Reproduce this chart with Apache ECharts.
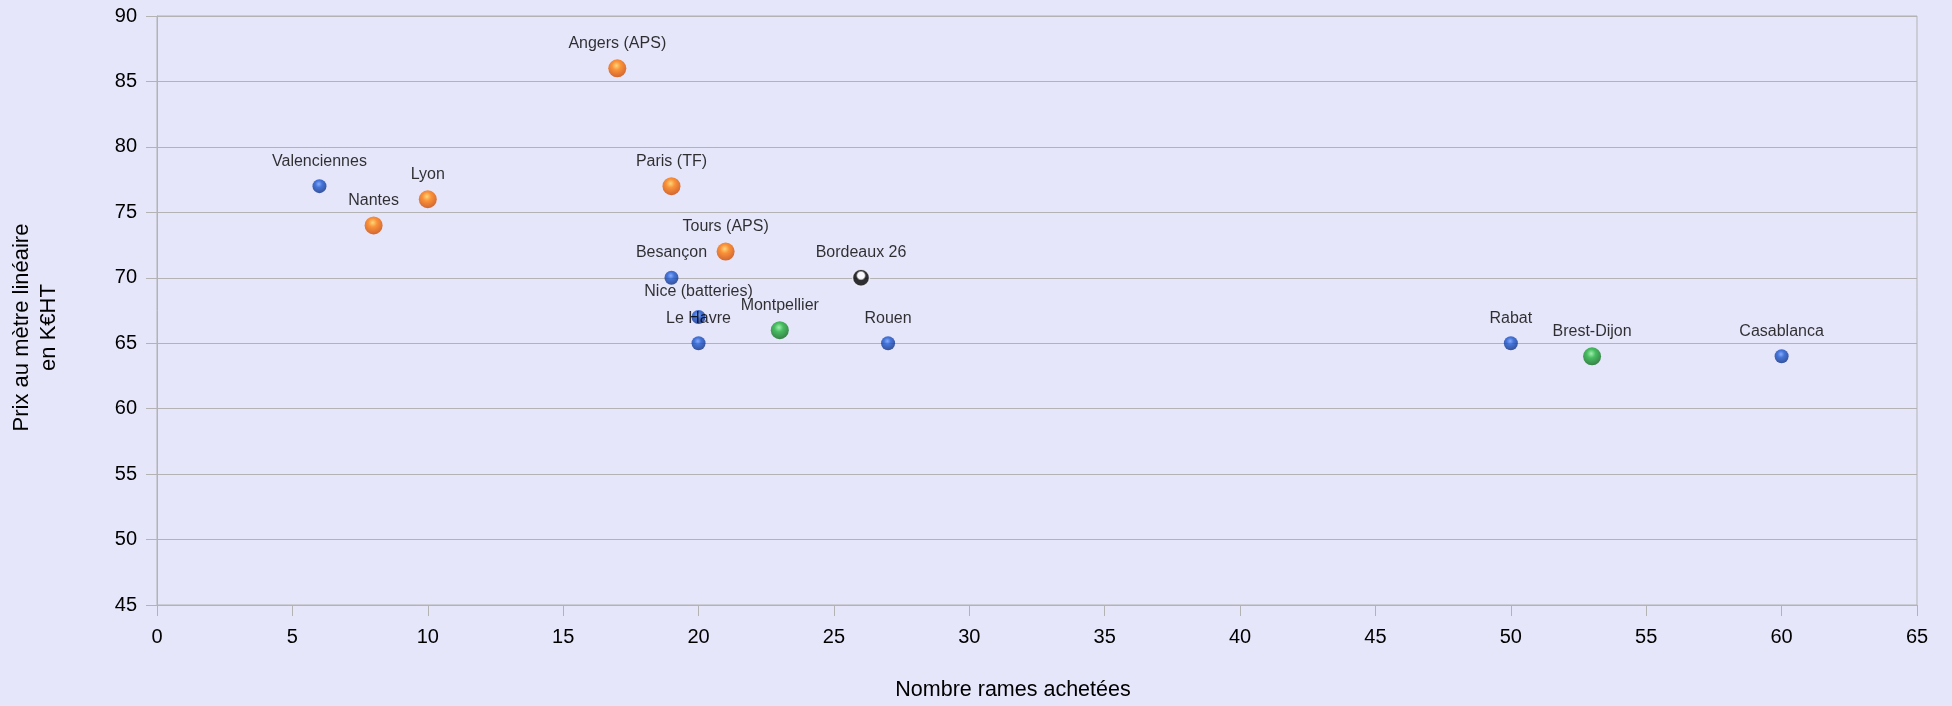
<!DOCTYPE html>
<html>
<head>
<meta charset="utf-8">
<script src="https://cdn.jsdelivr.net/npm/echarts@6/dist/echarts.min.js"></script>
<style>
  html, body { margin: 0; padding: 0; background: #e6e6fa; }
  #chart { width: 1952px; height: 706px; }
</style>
</head>
<body>
<div id="chart"></div>
<script>
// Tram fleet purchases: number of trainsets bought vs price per linear metre
const cities = ['Valenciennes', 'Nantes', 'Lyon', 'Angers (APS)', 'Paris (TF)', 'Tours (APS)',
  'Besançon', 'Nice (batteries)', 'Le Havre', 'Montpellier', 'Bordeaux 26', 'Rouen',
  'Rabat', 'Brest-Dijon', 'Casablanca'];
const ramesAchetees = [6, 8, 10, 17, 19, 21, 19, 20, 20, 23, 26, 27, 50, 53, 60];
const prixMetre = [77, 74, 76, 86, 77, 72, 70, 67, 65, 66, 70, 65, 65, 64, 64];
const groupes = ['bleu', 'orange', 'orange', 'orange', 'orange', 'orange',
  'bleu', 'bleu', 'bleu', 'vert', 'noir', 'bleu', 'bleu', 'vert', 'bleu'];

const xTicks = { min: 0, max: 65, interval: 5 };
const yTicks = { min: 45, max: 90, interval: 5 };

const FONT = '"Liberation Sans", Arial, sans-serif';

// glossy ball fill: bright spot near the top, darker rim
function sphere(light, mid, dark) {
  return {
    type: 'radial', x: 0.45, y: 0.35, r: 0.7,
    colorStops: [
      { offset: 0, color: light },
      { offset: 0.35, color: mid },
      { offset: 1, color: dark }
    ]
  };
}

const styles = {
  bleu:   { size: 14, color: sphere('#6f9cff', '#1c58d0', '#0a2878') },
  orange: { size: 18, color: sphere('#ffd35a', '#ff7c08', '#c84000') },
  vert:   { size: 18, color: sphere('#8ef09a', '#1fb23a', '#0a6018') },
  noir:   { size: 17, color: {
      type: 'radial', x: 0.5, y: 0.38, r: 0.6,
      colorStops: [
        { offset: 0, color: '#ffffff' },
        { offset: 0.3, color: '#ffffff' },
        { offset: 0.45, color: '#000000' },
        { offset: 1, color: '#000000' }
      ] }, border: '#f4f4ff' }
};

const series = Object.keys(styles).map(function (g) {
  const st = styles[g];
  const data = [];
  cities.forEach(function (name, i) {
    if (groupes[i] === g) data.push({ name: name, value: [ramesAchetees[i], prixMetre[i]] });
  });
  return {
    type: 'scatter',
    name: g,
    symbol: 'circle',
    symbolSize: st.size,
    itemStyle: {
      color: st.color,
      borderColor: st.border || 'transparent',
      borderWidth: st.border ? 1.5 : 0
    },
    label: {
      show: true,
      position: 'inside',
      offset: [0, -25],
      formatter: '{b}',
      color: '#000',
      fontFamily: FONT,
      fontSize: 16
    },
    emphasis: { disabled: true },
    data: data
  };
});

const chart = echarts.init(document.getElementById('chart'), null, { renderer: 'canvas' });
chart.setOption({
  backgroundColor: '#e6e6fa',
  animation: false,
  textStyle: { fontFamily: FONT },
  grid: {
    left: 157, right: 35, top: 16, bottom: 100,
    show: true, borderColor: '#b3b3b3', borderWidth: 1, backgroundColor: 'transparent'
  },
  xAxis: {
    type: 'value',
    min: xTicks.min, max: xTicks.max, interval: xTicks.interval,
    name: 'Nombre rames achetées',
    nameLocation: 'middle',
    nameGap: 74,
    nameTextStyle: { fontSize: 21.5, color: '#000', fontFamily: FONT, padding: [0, 48, 0, 0] },
    axisLine: { lineStyle: { color: '#b3b3b3' } },
    axisTick: { show: true, length: 11, lineStyle: { color: '#b3b3b3' } },
    axisLabel: { fontSize: 20, color: '#000', margin: 22, fontFamily: FONT },
    splitLine: { show: false }
  },
  yAxis: {
    type: 'value',
    min: yTicks.min, max: yTicks.max, interval: yTicks.interval,
    name: 'Prix au mètre linéaire\nen K€HT',
    nameLocation: 'middle',
    nameRotate: 90,
    nameGap: 95,
    nameTextStyle: { fontSize: 22, lineHeight: 27, color: '#000', fontFamily: FONT, align: 'center', padding: [0, 34, 0, 0] },
    axisLine: { show: true, lineStyle: { color: '#b3b3b3' } },
    axisTick: { show: true, length: 11, lineStyle: { color: '#b3b3b3' } },
    axisLabel: { fontSize: 20, color: '#000', margin: 20, fontFamily: FONT },
    splitLine: { show: true, lineStyle: { color: '#b3b3b3', width: 1 } }
  },
  series: series
});
</script>
</body>
</html>
